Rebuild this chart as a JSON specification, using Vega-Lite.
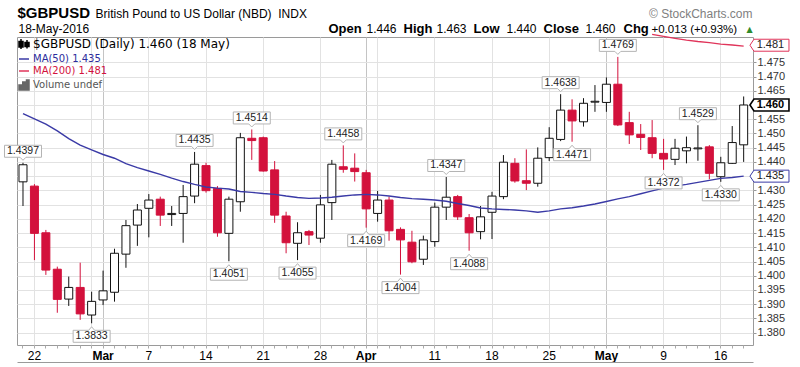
{
  "$schema": "https://vega.github.io/schema/vega-lite/v6.json",
  "width": 736,
  "height": 308,
  "autosize": "none",
  "padding": {"left": 17, "top": 37, "right": 47, "bottom": 22},
  "background": "white",
  "config": {
    "view": {"stroke": "#9a9a9a", "strokeWidth": 1},
    "axis": {"titleAngle": 0}
  },
  "datasets": {
    "candles": [
      {"date": "2016-02-19", "open": 1.4330, "high": 1.4397, "low": 1.4245, "close": 1.4390},
      {"date": "2016-02-22", "open": 1.4315, "high": 1.4322, "low": 1.4055, "close": 1.4149},
      {"date": "2016-02-23", "open": 1.4151, "high": 1.4161, "low": 1.4003, "close": 1.4020},
      {"date": "2016-02-24", "open": 1.4023, "high": 1.4032, "low": 1.3870, "close": 1.3917},
      {"date": "2016-02-25", "open": 1.3918, "high": 1.3997, "low": 1.3894, "close": 1.3959},
      {"date": "2016-02-26", "open": 1.3959, "high": 1.4046, "low": 1.3845, "close": 1.3866},
      {"date": "2016-02-29", "open": 1.3862, "high": 1.3944, "low": 1.3833, "close": 1.3910},
      {"date": "2016-03-01", "open": 1.3915, "high": 1.4018, "low": 1.3897, "close": 1.3947},
      {"date": "2016-03-02", "open": 1.3942, "high": 1.4095, "low": 1.3909, "close": 1.4079},
      {"date": "2016-03-03", "open": 1.4076, "high": 1.4196, "low": 1.4028, "close": 1.4176},
      {"date": "2016-03-04", "open": 1.4178, "high": 1.4252, "low": 1.4105, "close": 1.4231},
      {"date": "2016-03-07", "open": 1.4237, "high": 1.4287, "low": 1.4135, "close": 1.4266},
      {"date": "2016-03-08", "open": 1.4269, "high": 1.4278, "low": 1.4175, "close": 1.4213},
      {"date": "2016-03-09", "open": 1.4215, "high": 1.4245, "low": 1.4175, "close": 1.4219},
      {"date": "2016-03-10", "open": 1.4219, "high": 1.4319, "low": 1.4116, "close": 1.4278},
      {"date": "2016-03-11", "open": 1.4280, "high": 1.4435, "low": 1.4255, "close": 1.4392},
      {"date": "2016-03-14", "open": 1.4387, "high": 1.4397, "low": 1.4292, "close": 1.4299},
      {"date": "2016-03-15", "open": 1.4307, "high": 1.4315, "low": 1.4137, "close": 1.4151},
      {"date": "2016-03-16", "open": 1.4149, "high": 1.4278, "low": 1.4051, "close": 1.4269},
      {"date": "2016-03-17", "open": 1.4260, "high": 1.4502, "low": 1.4225, "close": 1.4485},
      {"date": "2016-03-18", "open": 1.4483, "high": 1.4514, "low": 1.4407, "close": 1.4475},
      {"date": "2016-03-21", "open": 1.4485, "high": 1.4489, "low": 1.4366, "close": 1.4368},
      {"date": "2016-03-22", "open": 1.4372, "high": 1.4403, "low": 1.4186, "close": 1.4213},
      {"date": "2016-03-23", "open": 1.4210, "high": 1.4225, "low": 1.4079, "close": 1.4116},
      {"date": "2016-03-24", "open": 1.4114, "high": 1.4188, "low": 1.4055, "close": 1.4151},
      {"date": "2016-03-25", "open": 1.4155, "high": 1.4161, "low": 1.4108, "close": 1.4143},
      {"date": "2016-03-28", "open": 1.4132, "high": 1.4284, "low": 1.4116, "close": 1.4249},
      {"date": "2016-03-29", "open": 1.4257, "high": 1.4407, "low": 1.4196, "close": 1.4392},
      {"date": "2016-03-30", "open": 1.4383, "high": 1.4458, "low": 1.4362, "close": 1.4374},
      {"date": "2016-03-31", "open": 1.4378, "high": 1.4430, "low": 1.4331, "close": 1.4366},
      {"date": "2016-04-01", "open": 1.4362, "high": 1.4372, "low": 1.4169, "close": 1.4235},
      {"date": "2016-04-04", "open": 1.4219, "high": 1.4298, "low": 1.4190, "close": 1.4266},
      {"date": "2016-04-05", "open": 1.4266, "high": 1.4278, "low": 1.4123, "close": 1.4158},
      {"date": "2016-04-06", "open": 1.4163, "high": 1.4170, "low": 1.4004, "close": 1.4126},
      {"date": "2016-04-07", "open": 1.4118, "high": 1.4158, "low": 1.4044, "close": 1.4049},
      {"date": "2016-04-08", "open": 1.4058, "high": 1.4141, "low": 1.4038, "close": 1.4126},
      {"date": "2016-04-11", "open": 1.4120, "high": 1.4257, "low": 1.4102, "close": 1.4241},
      {"date": "2016-04-12", "open": 1.4241, "high": 1.4347, "low": 1.4196, "close": 1.4276},
      {"date": "2016-04-13", "open": 1.4278, "high": 1.4284, "low": 1.4196, "close": 1.4207},
      {"date": "2016-04-14", "open": 1.4204, "high": 1.4217, "low": 1.4088, "close": 1.4151},
      {"date": "2016-04-15", "open": 1.4155, "high": 1.4245, "low": 1.4128, "close": 1.4207},
      {"date": "2016-04-18", "open": 1.4223, "high": 1.4295, "low": 1.4129, "close": 1.4280},
      {"date": "2016-04-19", "open": 1.4278, "high": 1.4424, "low": 1.4269, "close": 1.4399},
      {"date": "2016-04-20", "open": 1.4395, "high": 1.4413, "low": 1.4327, "close": 1.4333},
      {"date": "2016-04-21", "open": 1.4334, "high": 1.4444, "low": 1.4301, "close": 1.4325},
      {"date": "2016-04-22", "open": 1.4325, "high": 1.4451, "low": 1.4313, "close": 1.4413},
      {"date": "2016-04-25", "open": 1.4415, "high": 1.4522, "low": 1.4403, "close": 1.4483},
      {"date": "2016-04-26", "open": 1.4479, "high": 1.4638, "low": 1.4473, "close": 1.4582},
      {"date": "2016-04-27", "open": 1.4582, "high": 1.4620, "low": 1.4471, "close": 1.4544},
      {"date": "2016-04-28", "open": 1.4541, "high": 1.4624, "low": 1.4524, "close": 1.4606},
      {"date": "2016-04-29", "open": 1.4610, "high": 1.4670, "low": 1.4576, "close": 1.4613},
      {"date": "2016-05-02", "open": 1.4609, "high": 1.4697, "low": 1.4576, "close": 1.4673},
      {"date": "2016-05-03", "open": 1.4673, "high": 1.4769, "low": 1.4526, "close": 1.4530},
      {"date": "2016-05-04", "open": 1.4538, "high": 1.4576, "low": 1.4463, "close": 1.4495},
      {"date": "2016-05-05", "open": 1.4497, "high": 1.4533, "low": 1.4442, "close": 1.4486},
      {"date": "2016-05-06", "open": 1.4485, "high": 1.4547, "low": 1.4413, "close": 1.4430},
      {"date": "2016-05-09", "open": 1.4430, "high": 1.4481, "low": 1.4372, "close": 1.4410},
      {"date": "2016-05-10", "open": 1.4409, "high": 1.4481, "low": 1.4389, "close": 1.4448},
      {"date": "2016-05-11", "open": 1.4439, "high": 1.4489, "low": 1.4395, "close": 1.4450},
      {"date": "2016-05-12", "open": 1.4446, "high": 1.4529, "low": 1.4404, "close": 1.4449},
      {"date": "2016-05-13", "open": 1.4453, "high": 1.4459, "low": 1.4339, "close": 1.4360},
      {"date": "2016-05-16", "open": 1.4348, "high": 1.4418, "low": 1.4330, "close": 1.4397},
      {"date": "2016-05-17", "open": 1.4395, "high": 1.4526, "low": 1.4393, "close": 1.4468},
      {"date": "2016-05-18", "open": 1.4460, "high": 1.4630, "low": 1.4400, "close": 1.4600}
    ],
    "ma": [
      {"date": "2016-02-19", "series": "MA50", "value": 1.4570},
      {"date": "2016-02-22", "series": "MA50", "value": 1.4551},
      {"date": "2016-02-23", "series": "MA50", "value": 1.4533},
      {"date": "2016-02-24", "series": "MA50", "value": 1.4509},
      {"date": "2016-02-25", "series": "MA50", "value": 1.4482},
      {"date": "2016-02-26", "series": "MA50", "value": 1.4459},
      {"date": "2016-02-29", "series": "MA50", "value": 1.4442},
      {"date": "2016-03-01", "series": "MA50", "value": 1.4426},
      {"date": "2016-03-02", "series": "MA50", "value": 1.4413},
      {"date": "2016-03-03", "series": "MA50", "value": 1.4394},
      {"date": "2016-03-04", "series": "MA50", "value": 1.4380},
      {"date": "2016-03-07", "series": "MA50", "value": 1.4368},
      {"date": "2016-03-08", "series": "MA50", "value": 1.4356},
      {"date": "2016-03-09", "series": "MA50", "value": 1.4343},
      {"date": "2016-03-10", "series": "MA50", "value": 1.4331},
      {"date": "2016-03-11", "series": "MA50", "value": 1.4321},
      {"date": "2016-03-14", "series": "MA50", "value": 1.4312},
      {"date": "2016-03-15", "series": "MA50", "value": 1.4308},
      {"date": "2016-03-16", "series": "MA50", "value": 1.4305},
      {"date": "2016-03-17", "series": "MA50", "value": 1.4296},
      {"date": "2016-03-18", "series": "MA50", "value": 1.4293},
      {"date": "2016-03-21", "series": "MA50", "value": 1.4289},
      {"date": "2016-03-22", "series": "MA50", "value": 1.4286},
      {"date": "2016-03-23", "series": "MA50", "value": 1.4280},
      {"date": "2016-03-24", "series": "MA50", "value": 1.4275},
      {"date": "2016-03-25", "series": "MA50", "value": 1.4272},
      {"date": "2016-03-28", "series": "MA50", "value": 1.4273},
      {"date": "2016-03-29", "series": "MA50", "value": 1.4276},
      {"date": "2016-03-30", "series": "MA50", "value": 1.4280},
      {"date": "2016-03-31", "series": "MA50", "value": 1.4284},
      {"date": "2016-04-01", "series": "MA50", "value": 1.4286},
      {"date": "2016-04-04", "series": "MA50", "value": 1.4284},
      {"date": "2016-04-05", "series": "MA50", "value": 1.4280},
      {"date": "2016-04-06", "series": "MA50", "value": 1.4275},
      {"date": "2016-04-07", "series": "MA50", "value": 1.4271},
      {"date": "2016-04-08", "series": "MA50", "value": 1.4269},
      {"date": "2016-04-11", "series": "MA50", "value": 1.4266},
      {"date": "2016-04-12", "series": "MA50", "value": 1.4262},
      {"date": "2016-04-13", "series": "MA50", "value": 1.4254},
      {"date": "2016-04-14", "series": "MA50", "value": 1.4247},
      {"date": "2016-04-15", "series": "MA50", "value": 1.4238},
      {"date": "2016-04-18", "series": "MA50", "value": 1.4235},
      {"date": "2016-04-19", "series": "MA50", "value": 1.4233},
      {"date": "2016-04-20", "series": "MA50", "value": 1.4231},
      {"date": "2016-04-21", "series": "MA50", "value": 1.4228},
      {"date": "2016-04-22", "series": "MA50", "value": 1.4223},
      {"date": "2016-04-25", "series": "MA50", "value": 1.4228},
      {"date": "2016-04-26", "series": "MA50", "value": 1.4235},
      {"date": "2016-04-27", "series": "MA50", "value": 1.4239},
      {"date": "2016-04-28", "series": "MA50", "value": 1.4245},
      {"date": "2016-04-29", "series": "MA50", "value": 1.4252},
      {"date": "2016-05-02", "series": "MA50", "value": 1.4261},
      {"date": "2016-05-03", "series": "MA50", "value": 1.4270},
      {"date": "2016-05-04", "series": "MA50", "value": 1.4278},
      {"date": "2016-05-05", "series": "MA50", "value": 1.4288},
      {"date": "2016-05-06", "series": "MA50", "value": 1.4298},
      {"date": "2016-05-09", "series": "MA50", "value": 1.4308},
      {"date": "2016-05-10", "series": "MA50", "value": 1.4315},
      {"date": "2016-05-11", "series": "MA50", "value": 1.4321},
      {"date": "2016-05-12", "series": "MA50", "value": 1.4328},
      {"date": "2016-05-13", "series": "MA50", "value": 1.4335},
      {"date": "2016-05-16", "series": "MA50", "value": 1.4342},
      {"date": "2016-05-17", "series": "MA50", "value": 1.4345},
      {"date": "2016-05-18", "series": "MA50", "value": 1.4350},
      {"date": "2016-05-06", "series": "MA200", "value": 1.4848},
      {"date": "2016-05-09", "series": "MA200", "value": 1.4841},
      {"date": "2016-05-10", "series": "MA200", "value": 1.4834},
      {"date": "2016-05-11", "series": "MA200", "value": 1.4828},
      {"date": "2016-05-12", "series": "MA200", "value": 1.4823},
      {"date": "2016-05-13", "series": "MA200", "value": 1.4819},
      {"date": "2016-05-16", "series": "MA200", "value": 1.4814},
      {"date": "2016-05-17", "series": "MA200", "value": 1.4811},
      {"date": "2016-05-18", "series": "MA200", "value": 1.4807}
    ],
    "peaks": [
      {"date": "2016-02-19", "value": 1.4397, "kind": "high"},
      {"date": "2016-02-29", "value": 1.3833, "kind": "low"},
      {"date": "2016-03-11", "value": 1.4435, "kind": "high"},
      {"date": "2016-03-16", "value": 1.4051, "kind": "low"},
      {"date": "2016-03-18", "value": 1.4514, "kind": "high"},
      {"date": "2016-03-24", "value": 1.4055, "kind": "low"},
      {"date": "2016-03-30", "value": 1.4458, "kind": "high"},
      {"date": "2016-04-01", "value": 1.4169, "kind": "low"},
      {"date": "2016-04-06", "value": 1.4004, "kind": "low"},
      {"date": "2016-04-12", "value": 1.4347, "kind": "high"},
      {"date": "2016-04-14", "value": 1.4088, "kind": "low"},
      {"date": "2016-04-26", "value": 1.4638, "kind": "high"},
      {"date": "2016-04-27", "value": 1.4471, "kind": "low"},
      {"date": "2016-05-03", "value": 1.4769, "kind": "high"},
      {"date": "2016-05-09", "value": 1.4372, "kind": "low"},
      {"date": "2016-05-12", "value": 1.4529, "kind": "high"},
      {"date": "2016-05-16", "value": 1.4330, "kind": "low"}
    ],
    "tags": [
      {"date": "2016-05-18", "value": 1.481, "kind": "MA200"},
      {"date": "2016-05-18", "value": 1.460, "kind": "close"},
      {"date": "2016-05-18", "value": 1.435, "kind": "MA50"}
    ]
  },
  "resolve": {"axis": {"x": "independent", "y": "independent"}},
  "layer": [
    {
      "data": {"name": "candles"},
      "mark": {"type": "rule", "strokeWidth": 1},
      "encoding": {
        "x": {
          "field": "date", "type": "ordinal",
          "scale": {"type": "band", "paddingInner": 0, "paddingOuter": 0.17, "align": 0.07},
          "axis": {
            "orient": "bottom", "title": null, "bandPosition": 0.5,
            "labelExpr": "['22','Mar','7','14','21','28','Apr','11','18','25','May','9','16'][indexof(['2016-02-22','2016-03-01','2016-03-07','2016-03-14','2016-03-21','2016-03-28','2016-04-01','2016-04-11','2016-04-18','2016-04-25','2016-05-02','2016-05-09','2016-05-16'], datum.value)] || ''",
            "labelAngle": 0, "labelFont": "Liberation Sans", "labelFontSize": 12, "labelColor": "#000",
            "labelFontWeight": {"condition": {"test": "indexof(['2016-03-01','2016-04-01','2016-05-02'], datum.value) >= 0", "value": "bold"}, "value": "normal"},
            "labelPadding": 2, "labelOverlap": false, "labelBound": false,
            "ticks": true, "tickSize": 3, "tickColor": "#aaaaaa",
            "domain": false,
            "grid": true,
            "gridColor": {"condition": {"test": "indexof(['2016-03-01','2016-04-01','2016-05-02'], datum.value) >= 0", "value": "#c4c4c4"}, "value": "#e2e2e2"},
            "gridOpacity": {"condition": {"test": "indexof(['2016-02-22','2016-02-29','2016-03-01','2016-03-07','2016-03-14','2016-03-21','2016-03-28','2016-04-01','2016-04-04','2016-04-11','2016-04-18','2016-04-25','2016-05-02','2016-05-09','2016-05-16'], datum.value) >= 0", "value": 1}, "value": 0}
          }
        },
        "y": {
          "field": "low", "type": "quantitative",
          "scale": {"domain": [1.37567, 1.48389], "zero": false, "nice": false},
          "axis": {
            "orient": "right", "title": null,
            "values": [1.38, 1.385, 1.39, 1.395, 1.4, 1.405, 1.41, 1.415, 1.42, 1.425, 1.43, 1.435, 1.44, 1.445, 1.45, 1.455, 1.46, 1.465, 1.47, 1.475],
            "format": ".3f", "labelFont": "Liberation Sans", "labelFontSize": 11, "labelColor": "#333333",
            "labelPadding": 1, "tickSize": 3, "tickColor": "#999999", "domain": false,
            "grid": true, "gridColor": "#e2e2e2"
          }
        },
        "y2": {"field": "high"},
        "stroke": {"condition": {"test": "datum.close >= datum.open", "value": "#111111"}, "value": "#d3113c"}
      }
    },
    {
      "data": {"name": "candles"},
      "mark": {"type": "bar", "width": 8, "strokeWidth": 1},
      "encoding": {
        "x": {
          "field": "date", "type": "ordinal",
          "axis": {"orient": "top", "labels": false, "ticks": false, "domain": false, "grid": false,
            "title": "$GBPUSD", "titleX": 0, "titleY": -19.5, "titleAlign": "left", "titleBaseline": "alphabetic",
            "titleFont": "Liberation Sans", "titleFontSize": 15, "titleFontWeight": "bold", "titleColor": "#000000"}
        },
        "y": {
          "field": "open", "type": "quantitative",
          "scale": {"domain": [1.37567, 1.48389], "zero": false, "nice": false},
          "axis": {"orient": "left", "labels": false, "ticks": false, "domain": false, "grid": false,
            "title": "18-May-2016", "titleX": 1, "titleY": -4.5, "titleAlign": "left", "titleBaseline": "alphabetic",
            "titleFont": "Liberation Sans", "titleFontSize": 12, "titleFontWeight": "normal", "titleColor": "#000000"}
        },
        "y2": {"field": "close"},
        "fill": {"condition": {"test": "datum.close >= datum.open", "value": "#ffffff"}, "value": "#d3113c"},
        "stroke": {"condition": {"test": "datum.close >= datum.open", "value": "#111111"}, "value": "#d3113c"}
      }
    },
    {
      "data": {"name": "ma"},
      "mark": {"type": "line", "strokeWidth": 1.4},
      "encoding": {
        "x": {
          "field": "date", "type": "ordinal",
          "axis": {"orient": "top", "labels": false, "ticks": false, "domain": false, "grid": false,
            "title": "British Pound to US Dollar (NBD)\u00a0\u00a0INDX", "titleX": 78, "titleY": -19.5, "titleAlign": "left", "titleBaseline": "alphabetic",
            "titleFont": "Liberation Sans", "titleFontSize": 12, "titleFontWeight": "normal", "titleColor": "#000000"}
        },
        "y": {
          "field": "value", "type": "quantitative",
          "scale": {"domain": [1.37567, 1.48389], "zero": false, "nice": false},
          "axis": {"orient": "left", "labels": false, "ticks": false, "domain": false, "grid": false,
            "title": "Open", "titleX": 311, "titleY": -5, "titleAlign": "left", "titleBaseline": "alphabetic",
            "titleFont": "Liberation Sans", "titleFontSize": 13, "titleFontWeight": "bold", "titleColor": "#000000"}
        },
        "stroke": {
          "field": "series", "type": "nominal",
          "scale": {"domain": ["Price", "MA50", "MA200", "Volume"], "range": ["#000000", "#3a3aa6", "#e0345a", "#666666"]},
          "legend": {
            "orient": "top-left", "offset": 1, "padding": 0, "title": null,
            "symbolSize": 100, "symbolStrokeWidth": 1.5, "labelOffset": 3, "rowPadding": 1, "labelLimit": 400,
            "labelFont": "DejaVu Sans",
            "labelFontSize": {"expr": "datum.value == 'Price' ? 12 : 10"},
            "labelColor": {"expr": "datum.value == 'MA50' ? '#2c2c9c' : datum.value == 'MA200' ? '#d3113c' : datum.value == 'Volume' ? '#555555' : '#000000'"},
            "labelExpr": "datum.value == 'Price' ? '$GBPUSD (Daily) 1.460 (18 May)' : datum.value == 'MA50' ? 'MA(50) 1.435' : datum.value == 'MA200' ? 'MA(200) 1.481' : 'Volume undef'",
            "symbolType": {"expr": "datum.value == 'Price' ? 'M-0.6,-1L-0.6,1M-1,-0.5L-0.2,-0.5L-0.2,0.6L-1,0.6ZM0.6,-0.8L0.6,0.9M0.2,-0.3L1,-0.3L1,0.5L0.2,0.5Z' : datum.value == 'Volume' ? 'M-1,1L-1,0L-0.5,0L-0.5,1ZM-0.25,1L-0.25,-0.6L0.25,-0.6L0.25,1ZM0.5,1L0.5,-1L1,-1L1,1Z' : 'stroke'"},
            "symbolFillColor": {"expr": "datum.value == 'Volume' ? '#666666' : datum.value == 'Price' ? '#000000' : 'transparent'"}
          }
        }
      }
    },
    {
      "data": {"name": "peaks"},
      "mark": {"type": "point", "filled": true, "fill": "#ffffff", "stroke": "#b4b4b4", "strokeWidth": 1, "opacity": 1},
      "encoding": {
        "x": {
          "field": "date", "type": "ordinal",
          "axis": {"orient": "top", "labels": false, "ticks": false, "domain": false, "grid": false,
            "title": "© StockCharts.com", "titleX": 735, "titleY": -20, "titleAlign": "right", "titleBaseline": "alphabetic",
            "titleFont": "Liberation Sans", "titleFontSize": 12, "titleFontWeight": "normal", "titleColor": "#808080"}
        },
        "y": {
          "field": "value", "type": "quantitative",
          "scale": {"domain": [1.37567, 1.48389], "zero": false, "nice": false},
          "axis": {"orient": "left", "labels": false, "ticks": false, "domain": false, "grid": false,
            "title": "1.446", "titleX": 349, "titleY": -5, "titleAlign": "left", "titleBaseline": "alphabetic",
            "titleFont": "Liberation Sans", "titleFontSize": 12, "titleFontWeight": "normal", "titleColor": "#000000"}
        },
        "shape": {
          "field": "kind", "type": "nominal", "legend": null,
          "scale": {"domain": ["high", "low"], "range": [
            "M-1,-0.946L1,-0.946L1,-0.298L0.162,-0.298L0,-0.135L-0.162,-0.298L-1,-0.298Z",
            "M-1,0.379L-0.162,0.379L0,0.189L0.162,0.379L1,0.379L1,1.027L-1,1.027Z"
          ]}
        },
        "size": {"value": 1369}
      }
    },
    {
      "data": {"name": "peaks"},
      "transform": [{"filter": {"field": "kind", "equal": "high"}}],
      "mark": {"type": "text", "dy": -11.5, "baseline": "middle", "align": "center", "font": "Liberation Sans", "fontSize": 10.5, "color": "#222222"},
      "encoding": {
        "x": {
          "field": "date", "type": "ordinal",
          "axis": {"orient": "top", "labels": false, "ticks": false, "domain": false, "grid": false,
            "title": "▲", "titleX": 729, "titleY": -5.5, "titleAlign": "left", "titleBaseline": "alphabetic",
            "titleFont": "DejaVu Sans", "titleFontSize": 8, "titleFontWeight": "normal", "titleColor": "#2e8b2e"}
        },
        "y": {
          "field": "value", "type": "quantitative",
          "scale": {"domain": [1.37567, 1.48389], "zero": false, "nice": false},
          "axis": {"orient": "left", "labels": false, "ticks": false, "domain": false, "grid": false,
            "title": "High", "titleX": 386, "titleY": -5, "titleAlign": "left", "titleBaseline": "alphabetic",
            "titleFont": "Liberation Sans", "titleFontSize": 13, "titleFontWeight": "bold", "titleColor": "#000000"}
        },
        "text": {"field": "value", "type": "quantitative", "format": ".4f"}
      }
    },
    {
      "data": {"name": "peaks"},
      "transform": [{"filter": {"field": "kind", "equal": "low"}}],
      "mark": {"type": "text", "dy": 13, "baseline": "middle", "align": "center", "font": "Liberation Sans", "fontSize": 10.5, "color": "#222222"},
      "encoding": {
        "x": {
          "field": "date", "type": "ordinal",
          "axis": {"orient": "bottom", "offset": 17, "labels": false, "ticks": false, "grid": false, "title": null,
            "domain": true, "domainColor": "#9a9a9a", "domainWidth": 1}
        },
        "y": {
          "field": "value", "type": "quantitative",
          "scale": {"domain": [1.37567, 1.48389], "zero": false, "nice": false},
          "axis": {"orient": "left", "labels": false, "ticks": false, "domain": false, "grid": false,
            "title": "1.463", "titleX": 419, "titleY": -5, "titleAlign": "left", "titleBaseline": "alphabetic",
            "titleFont": "Liberation Sans", "titleFontSize": 12, "titleFontWeight": "normal", "titleColor": "#000000"}
        },
        "text": {"field": "value", "type": "quantitative", "format": ".4f"}
      }
    },
    {
      "data": {"name": "tags"},
      "mark": {"type": "point", "filled": true, "fill": "#ffffff", "shape": "M0.14,0L0.229,-0.133L1.007,-0.133L1.007,0.133L0.229,0.133Z", "size": 8100, "opacity": 1},
      "encoding": {
        "x": {
          "field": "date", "type": "ordinal",
          "axis": {"orient": "top", "labels": false, "ticks": false, "domain": false, "grid": false,
            "title": "Low", "titleX": 456, "titleY": -5, "titleAlign": "left", "titleBaseline": "alphabetic",
            "titleFont": "Liberation Sans", "titleFontSize": 13, "titleFontWeight": "bold", "titleColor": "#000000"}
        },
        "y": {
          "field": "value", "type": "quantitative",
          "scale": {"domain": [1.37567, 1.48389], "zero": false, "nice": false},
          "axis": {"orient": "left", "labels": false, "ticks": false, "domain": false, "grid": false,
            "title": "1.440", "titleX": 489, "titleY": -5, "titleAlign": "left", "titleBaseline": "alphabetic",
            "titleFont": "Liberation Sans", "titleFontSize": 12, "titleFontWeight": "normal", "titleColor": "#000000"}
        },
        "stroke": {"condition": [{"test": "datum.kind == 'MA200'", "value": "#e0345a"}, {"test": "datum.kind == 'MA50'", "value": "#3a3aa6"}], "value": "#000000"},
        "strokeWidth": {"condition": {"test": "datum.kind == 'close'", "value": 1.6}, "value": 1}
      }
    },
    {
      "data": {"name": "tags"},
      "transform": [{"filter": {"field": "kind", "oneOf": ["MA200", "MA50"]}}],
      "mark": {"type": "text", "dx": 13, "baseline": "middle", "align": "left", "font": "Liberation Sans", "fontSize": 11, "color": "#222222"},
      "encoding": {
        "x": {
          "field": "date", "type": "ordinal",
          "axis": {"orient": "top", "labels": false, "ticks": false, "domain": false, "grid": false,
            "title": "Close", "titleX": 526, "titleY": -5, "titleAlign": "left", "titleBaseline": "alphabetic",
            "titleFont": "Liberation Sans", "titleFontSize": 13, "titleFontWeight": "bold", "titleColor": "#000000"}
        },
        "y": {
          "field": "value", "type": "quantitative",
          "scale": {"domain": [1.37567, 1.48389], "zero": false, "nice": false},
          "axis": {"orient": "left", "labels": false, "ticks": false, "domain": false, "grid": false,
            "title": "1.460", "titleX": 568, "titleY": -5, "titleAlign": "left", "titleBaseline": "alphabetic",
            "titleFont": "Liberation Sans", "titleFontSize": 12, "titleFontWeight": "normal", "titleColor": "#000000"}
        },
        "text": {"field": "value", "type": "quantitative", "format": ".3f"}
      }
    },
    {
      "data": {"name": "tags"},
      "transform": [{"filter": {"field": "kind", "equal": "close"}}],
      "mark": {"type": "text", "dx": 13, "baseline": "middle", "align": "left", "font": "Liberation Sans", "fontSize": 11, "fontWeight": "bold", "color": "#000000"},
      "encoding": {
        "x": {
          "field": "date", "type": "ordinal",
          "axis": {"orient": "top", "labels": false, "ticks": false, "domain": false, "grid": false,
            "title": "Chg", "titleX": 606, "titleY": -5, "titleAlign": "left", "titleBaseline": "alphabetic",
            "titleFont": "Liberation Sans", "titleFontSize": 13, "titleFontWeight": "bold", "titleColor": "#000000"}
        },
        "y": {
          "field": "value", "type": "quantitative",
          "scale": {"domain": [1.37567, 1.48389], "zero": false, "nice": false},
          "axis": {"orient": "left", "labels": false, "ticks": false, "domain": false, "grid": false,
            "title": "+0.013 (+0.93%)", "titleX": 634, "titleY": -5, "titleAlign": "left", "titleBaseline": "alphabetic",
            "titleFont": "Liberation Sans", "titleFontSize": 11.5, "titleFontWeight": "normal", "titleColor": "#000000"}
        },
        "text": {"field": "value", "type": "quantitative", "format": ".3f"}
      }
    }
  ]
}
